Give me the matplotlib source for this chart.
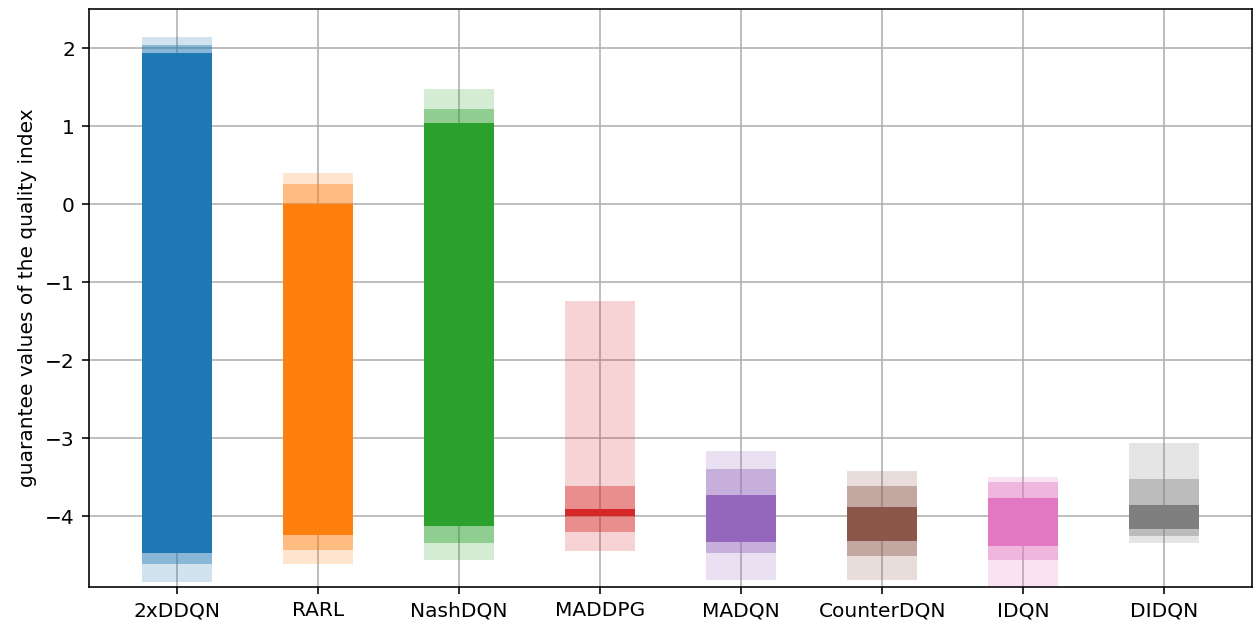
import numpy as np
import matplotlib
matplotlib.use("Agg")
from matplotlib import pyplot as plt

methods = ['2xDDQN', 'RARL', 'NashDQN', 'MADDPG', 'MADQN', 'CounterDQN', 'IDQN', 'DIDQN']

# outer range (min / max)
outer_low = [-4.84, -4.62, -4.56, -4.45, -4.82, -4.82, -4.95, -4.35]
outer_high = [2.14, 0.39, 1.47, -1.25, -3.17, -3.42, -3.50, -3.07]
# middle range
mid_low = [-4.61, -4.44, -4.34, -4.21, -4.48, -4.51, -4.57, -4.26]
mid_high = [2.03, 0.25, 1.21, -3.61, -3.40, -3.62, -3.57, -3.53]
# inner range
inner_low = [-4.47, -4.25, -4.13, -4.00, -4.33, -4.32, -4.38, -4.17]
inner_high = [1.93, 0.00, 1.04, -3.91, -3.73, -3.89, -3.77, -3.86]

colors = ['C%d' % i for i in range(len(methods))]

dpi = 145
fig = plt.figure(figsize=(1260.3 / dpi, 634.3 / dpi), dpi=dpi)
ax = fig.add_axes([0.0706, 0.0741, 0.9231, 0.9117])

x = np.arange(len(methods))
low, high = np.array(outer_low), np.array(outer_high)
ax.bar(x, high - low, bottom=low, width=0.5, color=colors, alpha=0.2)
low, high = np.array(mid_low), np.array(mid_high)
ax.bar(x, high - low, bottom=low, width=0.5, color=colors, alpha=0.4)
low, high = np.array(inner_low), np.array(inner_high)
ax.bar(x, high - low, bottom=low, width=0.5, color=colors, alpha=1.0)

ax.set_xticks(x)
ax.set_xticklabels(methods)
ax.set_ylim(-4.91, 2.50)
ax.set_ylabel('guarantee values of the quality index')
ax.set_axisbelow(True)
ax.grid(True)

plt.savefig('out.png', dpi=dpi)
